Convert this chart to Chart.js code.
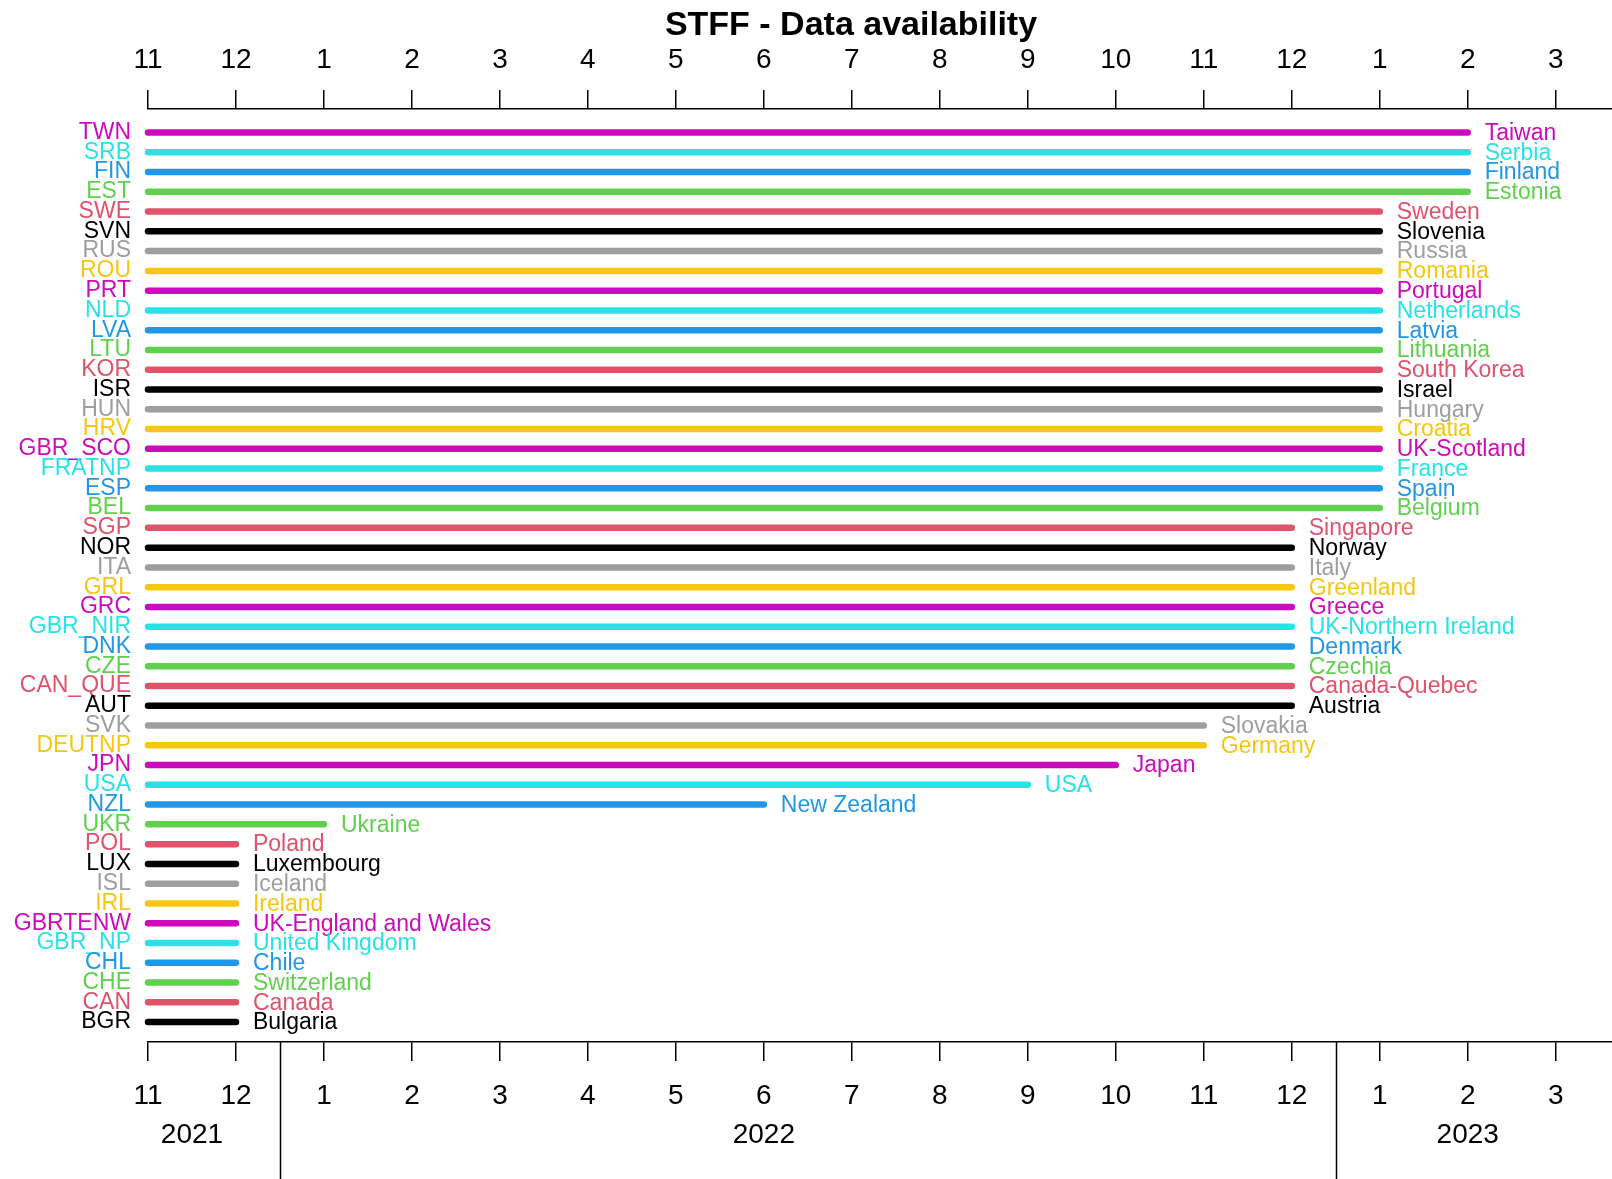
<!DOCTYPE html>
<html>
<head>
<meta charset="utf-8">
<title>STFF - Data availability</title>
<script src="https://cdn.jsdelivr.net/npm/chart.js@4.4.1/dist/chart.umd.min.js"></script>
<style>
  html, body { margin: 0; padding: 0; background: #fff; }
  #wrap { width: 1612px; height: 1179px; position: relative; }
</style>
</head>
<body>
<div id="wrap"><canvas id="myChart"></canvas></div>
<script>
// countries, top to bottom
const codes = ["TWN", "SRB", "FIN", "EST", "SWE", "SVN", "RUS", "ROU", "PRT", "NLD",
  "LVA", "LTU", "KOR", "ISR", "HUN", "HRV", "GBR_SCO", "FRATNP", "ESP", "BEL",
  "SGP", "NOR", "ITA", "GRL", "GRC", "GBR_NIR", "DNK", "CZE", "CAN_QUE", "AUT",
  "SVK", "DEUTNP", "JPN", "USA", "NZL", "UKR", "POL", "LUX", "ISL", "IRL",
  "GBRTENW", "GBR_NP", "CHL", "CHE", "CAN", "BGR"];
const names = ["Taiwan", "Serbia", "Finland", "Estonia", "Sweden", "Slovenia", "Russia", "Romania", "Portugal", "Netherlands",
  "Latvia", "Lithuania", "South Korea", "Israel", "Hungary", "Croatia", "UK-Scotland", "France", "Spain", "Belgium",
  "Singapore", "Norway", "Italy", "Greenland", "Greece", "UK-Northern Ireland", "Denmark", "Czechia", "Canada-Quebec", "Austria",
  "Slovakia", "Germany", "Japan", "USA", "New Zealand", "Ukraine", "Poland", "Luxembourg", "Iceland", "Ireland",
  "UK-England and Wales", "United Kingdom", "Chile", "Switzerland", "Canada", "Bulgaria"];
// months since Nov 2021 (0 = 2021-11)
const startMonth = [0, 0, 0, 0, 0, 0, 0, 0, 0, 0, 0, 0, 0, 0, 0, 0, 0, 0, 0, 0, 0, 0, 0,
  0, 0, 0, 0, 0, 0, 0, 0, 0, 0, 0, 0, 0, 0, 0, 0, 0, 0, 0, 0, 0, 0, 0];
const endMonth = [15, 15, 15, 15, 14, 14, 14, 14, 14, 14,
  14, 14, 14, 14, 14, 14, 14, 14, 14, 14,
  13, 13, 13, 13, 13, 13, 13, 13, 13, 13,
  12, 12, 11, 10, 7, 2, 1, 1, 1, 1,
  1, 1, 1, 1, 1, 1];

// axis labels
const tickValues = [0, 1, 2, 3, 4, 5, 6, 7, 8, 9, 10, 11, 12, 13, 14, 15, 16];
const monthLabels = ["11", "12", "1", "2", "3", "4", "5", "6", "7", "8", "9", "10", "11", "12", "1", "2", "3"];
const yearLabels = ["2021", "2022", "2023"];
const yearPos = [0.5, 7, 15];
const yearBreaks = [1.5, 13.5];

// R default palette, applied from the bottom row upward
const palette = ["#000000", "#DF536B", "#61D04F", "#2297E6", "#28E2E5", "#CD0BBC", "#F5C710", "#9E9E9E"];
const n = codes.length;
const colorOf = (i) => palette[(n - 1 - i) % palette.length];

const FONT = "'Liberation Sans', Arial, Helvetica, sans-serif";

const datasets = codes.map((code, i) => ({
  label: code,
  data: [{ x: startMonth[i], y: i }, { x: endMonth[i], y: i }],
  borderColor: colorOf(i),
  borderWidth: 6.5,
  borderCapStyle: "round",
  pointRadius: 0,
  pointHoverRadius: 0,
  clip: false,
}));

const extras = {
  id: "extras",
  afterDatasetsDraw(chart) {
    const ctx = chart.ctx;
    const xs = chart.scales.x;
    const ys = chart.scales.y;
    const xb = chart.scales.x2;
    ctx.save();
    // country names at line ends
    ctx.font = "23px " + FONT;
    ctx.textAlign = "left";
    ctx.textBaseline = "middle";
    names.forEach((nm, i) => {
      ctx.fillStyle = colorOf(i);
      ctx.fillText(nm, xs.getPixelForValue(endMonth[i]) + 17, ys.getPixelForValue(i) + 1);
    });
    // title
    ctx.fillStyle = "#000";
    ctx.font = "bold 34px " + FONT;
    ctx.textAlign = "center";
    ctx.fillText("STFF - Data availability", 851, 26);
    // year labels and separators
    ctx.font = "28px " + FONT;
    yearLabels.forEach((yl, k) => {
      ctx.fillText(yl, xb.getPixelForValue(yearPos[k]), 1135);
    });
    ctx.strokeStyle = "#000";
    ctx.lineWidth = 1.5;
    yearBreaks.forEach((b) => {
      const px = Math.round(xb.getPixelForValue(b)) + 0.5;
      ctx.beginPath();
      ctx.moveTo(px, chart.chartArea.bottom);
      ctx.lineTo(px, 1179);
      ctx.stroke();
    });
    ctx.restore();
  },
};

const xAxis = (pos, height, pad) => ({
  type: "linear",
  position: pos,
  min: 0,
  max: 16.64,
  afterBuildTicks: (axis) => { axis.ticks = tickValues.map((v) => ({ value: v })); },
  afterFit: (axis) => { axis.height = height; },
  ticks: {
    autoSkip: false,
    maxRotation: 0,
    padding: pad,
    color: "#000",
    font: { family: FONT, size: 28 },
    callback: (v) => monthLabels[tickValues.indexOf(v)],
  },
  grid: { display: true, drawOnChartArea: false, drawTicks: true, tickLength: 19, color: "#000", lineWidth: 1.5 },
  border: { display: true, color: "#000", width: 1.5 },
});

new Chart(document.getElementById("myChart"), {
  type: "line",
  data: { datasets: datasets },
  options: {
    responsive: true,
    maintainAspectRatio: false,
    animation: false,
    layout: { padding: 0 },
    plugins: {
      legend: { display: false },
      tooltip: { enabled: false },
      title: { display: false },
    },
    scales: {
      x: xAxis("top", 109, 13),
      x2: xAxis("bottom", 137, 18),
      y: {
        type: "linear",
        reverse: true,
        min: -1.19,
        max: 46.01,
        afterBuildTicks: (axis) => { axis.ticks = codes.map((c, i) => ({ value: i })); },
        afterFit: (axis) => { axis.width = 148; },
        ticks: {
          autoSkip: false,
          padding: 9,
          color: (c) => colorOf(c.index),
          font: { family: FONT, size: 23 },
          callback: (v) => codes[v],
        },
        grid: { display: false },
        border: { display: false },
      },
    },
  },
  plugins: [extras],
});
</script>
</body>
</html>
